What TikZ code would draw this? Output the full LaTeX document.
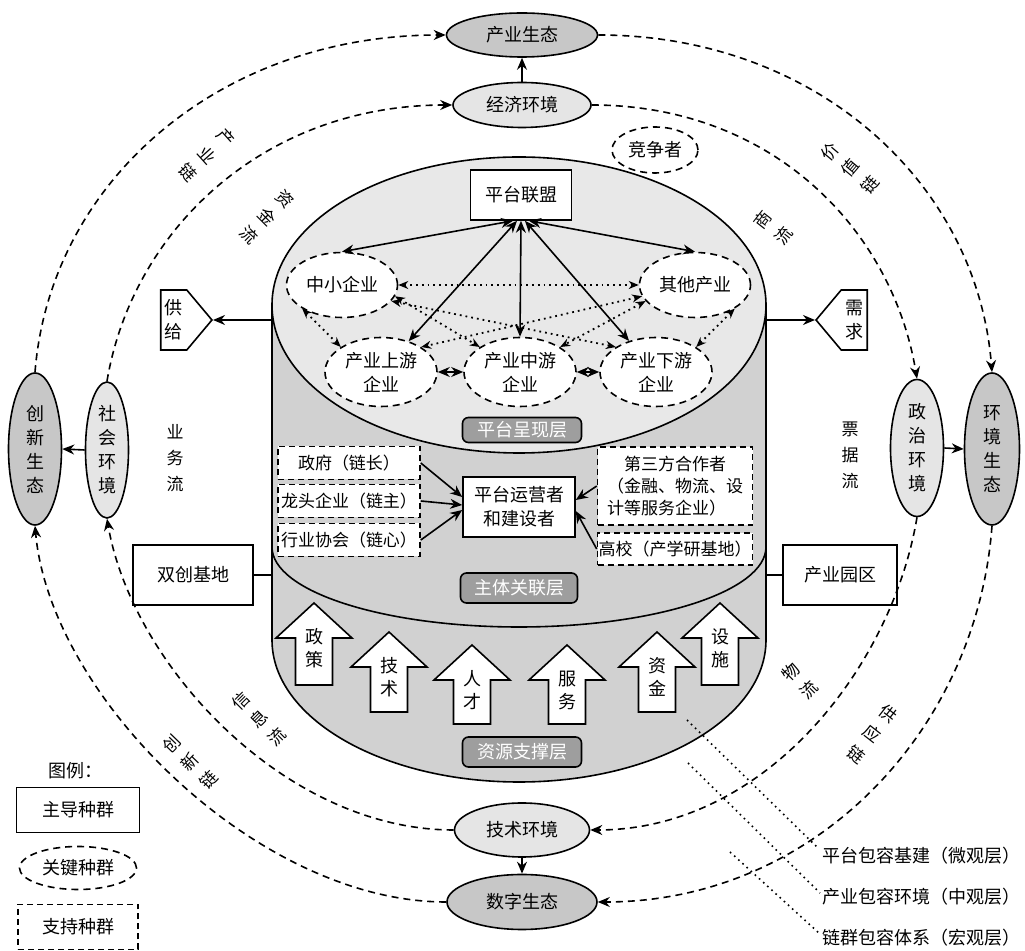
\documentclass[tikz,border=0pt]{standalone}
\usepackage{fontspec}
\setmainfont{Noto Sans CJK SC}
\usepackage{tikz}
\usetikzlibrary{arrows.meta}
\usetikzlibrary{shapes}
\usetikzlibrary{positioning}

\definecolor{ecogray}{gray}{0.78}
\definecolor{envgray}{gray}{0.9}
\definecolor{topgray}{gray}{0.91}
\definecolor{bodygray}{gray}{0.82}
\definecolor{taggray}{gray}{0.62}

\tikzset{
  lead/.style={draw, fill=white, inner sep=0pt},
  keypop/.style={ellipse, draw, dash pattern=on 3.5pt off 2.5pt, fill=white, inner sep=0pt},
  support/.style={draw, dash pattern=on 3pt off 2pt, fill=white, inner sep=0pt,
    font=\fontsize{8.5pt}{11pt}\selectfont},
  eco/.style={ellipse, draw, fill=ecogray, inner sep=0pt},
  env/.style={ellipse, draw, fill=envgray, inner sep=0pt},
  layertag/.style={draw, rounded corners=3pt, fill=taggray, text=white, inner sep=0pt},
  chainline/.style={dash pattern=on 3.5pt off 2.5pt, ->},
  peer/.style={dotted, line width=0.9pt,
    {Stealth[length=5pt,width=4pt]}-{Stealth[length=5pt,width=4pt]}},
  flowtxt/.style={align=center, inner sep=0pt, font=\fontsize{8.5pt}{13pt}\selectfont}
}

\begin{document}
\begin{tikzpicture}[x=0.5pt, y=-0.5pt, line width=0.8pt,
  font=\fontsize{9pt}{12pt}\selectfont, >={Stealth[length=6pt,width=5pt]}]
  \useasboundingbox (0,0) rectangle (1025,951);

  %% cylinder
  \fill[bodygray] (272,305) -- (272,640)
    arc[start angle=180, end angle=360, x radius=123.5pt, y radius=71pt] -- (766,305) -- cycle;
  \draw (272,305) -- (272,640)
    arc[start angle=180, end angle=360, x radius=123.5pt, y radius=71pt] -- (766,305);
  \draw (272,547) arc[start angle=180, end angle=360, x radius=123.5pt, y radius=40pt];
  \draw[fill=topgray] (519,305) ellipse[x radius=123.5pt, y radius=74pt];

  %% platform layer
  \node[lead, minimum width=50.5pt, minimum height=25pt] (ptlm) at (521,195) {平台联盟};
  \node[keypop, minimum width=43pt, minimum height=23pt] (jzz) at (655,150) {竞争者};
  \node[keypop, minimum width=55.5pt, minimum height=32.5pt] (zxqy) at (342,285) {中小企业};
  \node[keypop, minimum width=55.5pt, minimum height=32.5pt] (qtcy) at (695,285) {其他产业};
  \node[keypop, minimum width=56pt, minimum height=34.5pt, align=center] (cysy) at (381,372) {产业上游\\企业};
  \node[keypop, minimum width=56pt, minimum height=34.5pt, align=center] (cyzy) at (520,372) {产业中游\\企业};
  \node[keypop, minimum width=56pt, minimum height=34.5pt, align=center] (cyxy) at (656,372) {产业下游\\企业};

  \draw[<->] ([xshift=-4pt]ptlm.south) -- (zxqy.north);
  \draw[<->] ([xshift=-2pt]ptlm.south) -- (cysy);
  \draw[<->] (ptlm.south) -- (cyzy.north);
  \draw[<->] ([xshift=2pt]ptlm.south) -- (cyxy);
  \draw[<->] ([xshift=4pt]ptlm.south) -- (qtcy.north);

  \draw[peer] (zxqy.east) -- (qtcy.west);
  \draw[peer] (zxqy.south west) -- (cysy.north west);
  \draw[peer] (zxqy.-12) -- (cyzy.north west);
  \draw[peer] (zxqy.-18) -- (cyxy.north west);
  \draw[peer] (qtcy.192) -- (cysy.north east);
  \draw[peer] (qtcy.198) -- (cyzy.north east);
  \draw[peer] (qtcy.south east) -- (cyxy.north east);
  \draw[<->] (cysy) -- (cyzy);
  \draw[<->] (cyzy) -- (cyxy);

  \node[layertag, minimum width=59.5pt, minimum height=12.5pt] (tag1) at (522,430) {平台呈现层};

  %% actor layer
  \node[support, minimum width=71pt, minimum height=16.5pt] (zf) at (349,463) {政府（链长）};
  \node[support, minimum width=71pt, minimum height=16.5pt] (ltqy) at (349,501) {龙头企业（链主）};
  \node[support, minimum width=71pt, minimum height=16.5pt] (hyxh) at (349,540) {行业协会（链心）};
  \node[lead, minimum width=56pt, minimum height=30pt, align=center] (yyz) at (519,507) {平台运营者\\和建设者};
  \node[support, minimum width=77.5pt, minimum height=39pt, align=center] (dsf) at (675,486)
    {第三方合作者\\（金融、物流、设\\计等服务企业）\hphantom{设}};
  \node[support, minimum width=77.5pt, minimum height=16pt] (gx) at (675,549) {高校（产学研基地）};

  \draw[->] (zf.east) -- ([yshift=5pt]yyz.west);
  \draw[->] (ltqy.east) -- ([yshift=1pt]yyz.west);
  \draw[->] (hyxh.east) -- ([yshift=-1.5pt]yyz.west);
  \draw[->] (dsf.west) -- ([yshift=3.5pt]yyz.east);
  \draw[->] (gx.west) -- ([yshift=-2pt]yyz.east);

  \node[layertag, minimum width=58.5pt, minimum height=15pt] (tag2) at (519,588) {主体关联层};

  %% resource layer
  \foreach \nm/\x/\tip/\bot/\txt in {zc/314/603/685/{政\\策}, js/389/632/712/{技\\术},
      rc/472/645/724/{人\\才}, fw/567/645/724/{服\\务}, zj/657/632/712/{资\\金},
      ss/720/603/685/{设\\施}}{
    \draw[fill=white] (\x-18.5,\bot) -- (\x-18.5,\tip+35) -- (\x-38,\tip+35) -- (\x,\tip)
      -- (\x+38,\tip+35) -- (\x+18.5,\tip+35) -- (\x+18.5,\bot) -- cycle;
    \node[align=center, inner sep=0pt, font=\fontsize{9pt}{11.5pt}\selectfont] (\nm) at (\x,\tip+45) {\txt};
  }

  \node[layertag, minimum width=59.5pt, minimum height=15pt] (tag3) at (522,752) {资源支撑层};

  %% supply and demand, bases
  \node[lead, signal, signal to=east, signal pointer angle=100, inner xsep=2pt,
    minimum width=25.5pt, minimum height=30pt, align=center, anchor=east] (gj) at (213,320) {供\\给};
  \node[lead, signal, signal to=west, signal pointer angle=100, inner xsep=2pt,
    minimum width=25.5pt, minimum height=30pt, align=center, anchor=west] (xq) at (815,320) {需\\求};
  \coordinate (cylL) at (272,320);
  \coordinate (cylR) at (766,320);
  \draw[->] (cylL) -- (gj.east);
  \draw[->] (cylR) -- (xq.west);

  \node[lead, minimum width=60pt, minimum height=30pt] (scjd) at (193,575) {双创基地};
  \node[lead, minimum width=57pt, minimum height=30pt] (cyyq) at (840,575) {产业园区};
  \coordinate (cylL2) at (272,575);
  \coordinate (cylR2) at (766,575);
  \draw (scjd.east) -- (cylL2);
  \draw (cyyq.west) -- (cylR2);

  %% environments and ecologies
  \node[eco, minimum width=75.5pt, minimum height=22pt] (cyst) at (522,35) {产业生态};
  \node[env, minimum width=69pt, minimum height=22.5pt] (jjhj) at (522,105) {经济环境};
  \node[env, minimum width=67.5pt, minimum height=27pt] (jshj) at (522,830) {技术环境};
  \node[eco, minimum width=75pt, minimum height=27.5pt] (szst) at (522,902) {数字生态};
  \node[env, minimum width=21.5pt, minimum height=68pt, align=center] (shhj) at (107,450) {社\\会\\环\\境};
  \node[eco, minimum width=26.5pt, minimum height=76pt, align=center] (cxst) at (35,449) {创\\新\\生\\态};
  \node[env, minimum width=26.5pt, minimum height=68.5pt, align=center] (zzhj) at (917,448) {政\\治\\环\\境};
  \node[eco, minimum width=27.5pt, minimum height=76pt, align=center] (hjst) at (992,449) {环\\境\\生\\态};

  \draw[->] (jjhj.north) -- (cyst.south);
  \draw[->] (shhj.west) -- (cxst.east);
  \draw[->] (zzhj.east) -- (hjst.west);
  \draw[->] (jshj.south) -- (szst.north);

  % chains
  \draw[chainline] (cxst.north) .. controls +(15,-190) and +(-227,0) .. (cyst.west);
  \draw[chainline] (cyst.east) .. controls +(217,0) and +(-15,-190) .. (hjst.north);
  \draw[chainline] (szst.west) .. controls +(-190,0) and +(15,170) .. (cxst.south);
  \draw[chainline] (hjst.south) .. controls +(-15,205) and +(217,0) .. (szst.east);
  % flows
  \draw[chainline] (shhj.north) .. controls +(25,-150) and +(-190,0) .. (jjhj.west);
  \draw[chainline] (jjhj.east) .. controls +(180,0) and +(-25,-150) .. (zzhj.north);
  \draw[chainline] (jshj.west) .. controls +(-170,0) and +(25,145) .. (shhj.south);
  \draw[chainline] (zzhj.south) .. controls +(-25,150) and +(175,0) .. (jshj.east);

  \node[flowtxt, rotate=-48] (cyl) at (207,155) {产\\业\\链};
  \node[flowtxt, rotate=-45] (zjl) at (267,217) {资\\金\\流};
  \node[flowtxt, rotate=50] (jzl) at (850,168) {价\\值\\链};
  \node[flowtxt, rotate=52] (sl) at (773,228) {商\\流};
  \node[flowtxt, rotate=45] (xxl) at (259,719) {信\\息\\流};
  \node[flowtxt, rotate=46] (cxl) at (190,762) {创\\新\\链};
  \node[flowtxt, rotate=45] (wl) at (800,681) {物\\流};
  \node[flowtxt, rotate=-38] (gyl) at (872,734) {供\\应\\链};
  \node[flowtxt] (ywl) at (175,458) {业\\务\\流};
  \node[flowtxt] (pjl) at (850,455) {票\\据\\流};

  %% layer callouts
  \node[anchor=west, inner sep=0pt] (lb1) at (822,856) {平台包容基建（微观层）};
  \node[anchor=west, inner sep=0pt] (lb2) at (822,897) {产业包容环境（中观层）};
  \node[anchor=west, inner sep=0pt] (lb3) at (822,938) {链群包容体系（宏观层）};
  \coordinate (ms1) at (687,720);
  \coordinate (ms2) at (688,763);
  \coordinate (ms3) at (730,852);
  \draw[dotted] (ms1) -- ([shift={(-2pt,4pt)}]lb1.west);
  \draw[dotted] (ms2) -- ([shift={(-1pt,2pt)}]lb2.west);
  \draw[dotted] (ms3) -- ([shift={(-1pt,2pt)}]lb3.west);

  %% legend
  \node (tl) at (75,771) {图例：};
  \node[lead, minimum width=61.5pt, minimum height=22.5pt] (lg1) at (78,810) {主导种群};
  \node[keypop, minimum width=58.5pt, minimum height=21.5pt] (lg2) at (78,868) {关键种群};
  \node[support, minimum width=60pt, minimum height=22.5pt, font=\fontsize{9pt}{12pt}\selectfont] (lg3) at (78,927) {支持种群};
\end{tikzpicture}
\end{document}
